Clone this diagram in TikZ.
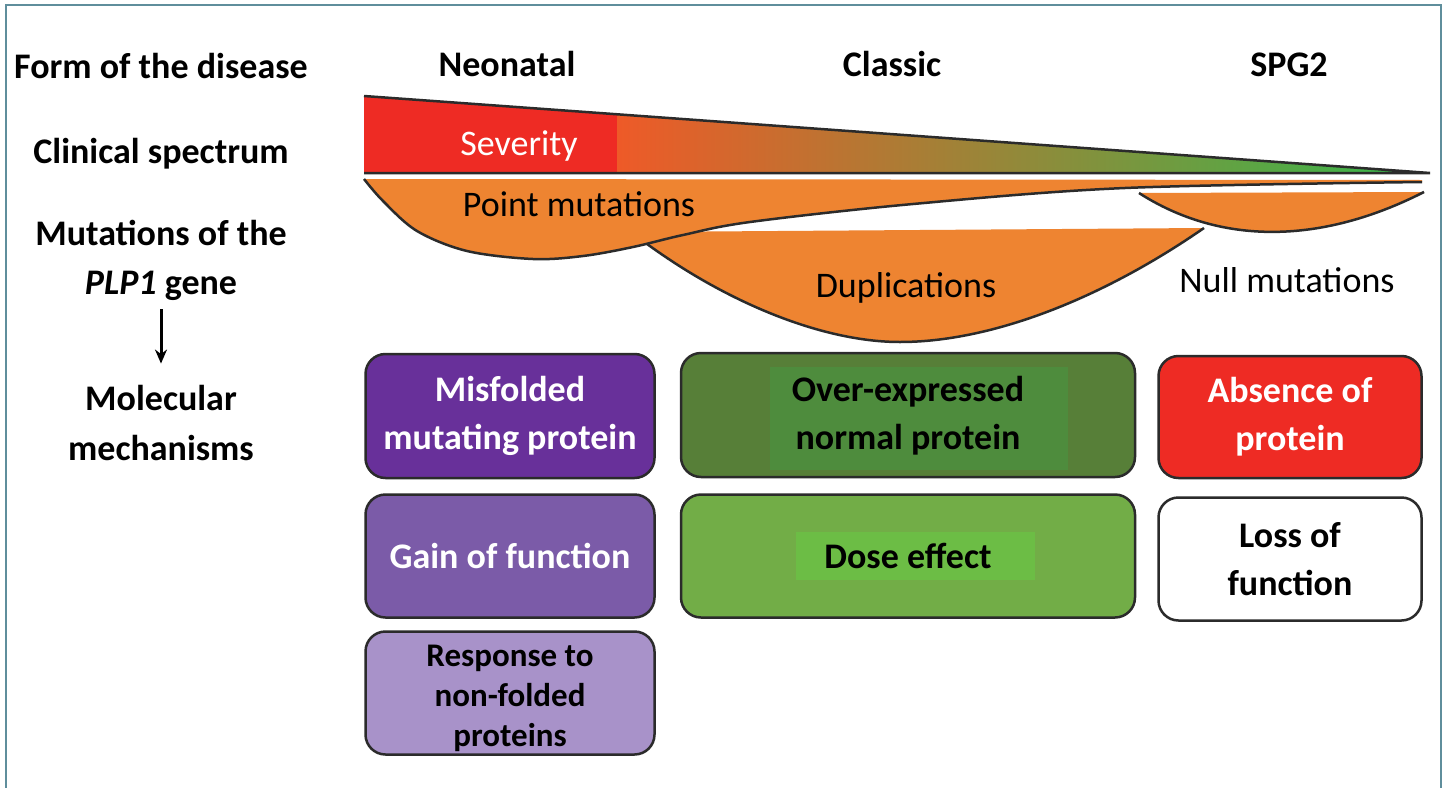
\documentclass[tikz,border=0pt]{standalone}
\usepackage{fontspec}
\setmainfont{Carlito}
\usetikzlibrary{arrows.meta}
\definecolor{sevred}{HTML}{EE2B24}
\definecolor{sevor}{HTML}{EE5A28}
\definecolor{sevgreen}{HTML}{3DB54A}
\definecolor{mutor}{HTML}{EE8431}
\definecolor{purpA}{HTML}{68309A}
\definecolor{purpB}{HTML}{7B5BA8}
\definecolor{purpC}{HTML}{A892C9}
\definecolor{grA}{HTML}{577F38}
\definecolor{grAin}{HTML}{4E8C3D}
\definecolor{grB}{HTML}{72AD47}
\definecolor{grBin}{HTML}{6CBD45}
\definecolor{framec}{HTML}{5F8E9C}
\definecolor{outl}{HTML}{2B2B2B}
\begin{document}
\begin{tikzpicture}[x=1pt,y=-1pt,
  lab/.style={inner sep=0pt, anchor=base, font=\fontsize{36}{44}\selectfont\bfseries},
  plain/.style={inner sep=0pt, anchor=base, font=\fontsize{36}{44}\selectfont},
  box/.style={draw=outl, line width=2.5pt, rounded corners=20pt, align=center, inner sep=0pt, font=\fontsize{36}{48}\selectfont\bfseries},
  boxtext/.style={align=center, inner sep=0pt, font=\fontsize{36}{48}\selectfont\bfseries},
  shapeline/.style={draw=outl, line width=2.5pt},
  arr/.style={-{Stealth[length=14pt,width=12pt]}, line width=3pt}
]
\useasboundingbox (0,0) rectangle (1448,787);
\fill[white] (0,0) rectangle (1448,787);
\draw[framec, line width=2pt] (6,790) -- (6,5) -- (1441,5) -- (1441,790);

% headers
\node[lab] (form) at (161,78) {Form of the disease};
\node[lab] (neo) at (507,76) {Neonatal};
\node[lab] (cla) at (892,76) {Classic};
\node[lab] (spg) at (1289,76) {SPG2};

% left column
\node[lab] (clin) at (161,163) {Clinical spectrum};
\node[lab] (mut) at (161,245) {Mutations of the};
\node[lab] (plp) at (161,294) {\textit{PLP1} gene};
\node[lab] (mol) at (161,410) {Molecular};
\node[lab] (mech) at (161,460) {mechanisms};
\draw[arr, shorten <=9pt, shorten >=21pt] (plp.south) -- (mol.north);

% severity triangle
\begin{scope}
\clip (364,96) -- (1430,173) -- (364,173) -- cycle;
\fill[sevred] (360,90) rectangle (617,176);
\shade[left color=sevor, right color=sevgreen] (617,90) rectangle (1390,176);
\fill[sevgreen] (1389,90) rectangle (1440,176);
\end{scope}
\draw[outl, line width=2.5pt] (364,96) -- (1430,173) -- (364,173);
\node[plain, text=white] (sev) at (519,155) {Severity};

% duplications
\fill[mutor] (635,232) -- (1204,228) .. controls (1100,300) and (990,342) .. (900,342) .. controls (820,342) and (720,300) .. (635,235) -- cycle;
\draw[shapeline] (1204,228) .. controls (1100,300) and (990,342) .. (900,342) .. controls (820,342) and (720,300) .. (635,235);

% point mutations
\fill[mutor] (364,179) -- (1422,180) -- plot[smooth, tension=0.55] coordinates {(1422,182) (1125,188) (913,204) (750,222) (683,235) (633,247) (583,256) (533,259) (467,251) (417,231) (383,201) (364,179)} -- cycle;
\draw[shapeline] plot[smooth, tension=0.55] coordinates {(1422,182) (1125,188) (913,204) (750,222) (683,235) (633,247) (583,256) (533,259) (467,251) (417,231) (383,201) (364,179)};

% null mutations
\fill[mutor] (1139,193) -- (1424,192) .. controls (1320,245) and (1220,245) .. (1139,193) -- cycle;
\draw[shapeline] (1424,192) .. controls (1320,245) and (1220,245) .. (1139,193);

\node[plain] (pm) at (579,216) {Point mutations};
\node[plain] (dup) at (906,297) {Duplications};
\node[plain] (null) at (1287,292) {Null mutations};

% boxes
\node[box, fill=purpA, text=white, minimum width=289, minimum height=124] (mis) at (510,416) {Misfolded\\mutating protein};
\node[box, fill=purpB, text=white, minimum width=289, minimum height=123] (gain) at (510,556) {Gain of function};
\node[box, fill=purpC, minimum width=289, minimum height=123] (resp) at (510,693) {};
\node[boxtext, font=\fontsize{33}{40}\selectfont\bfseries] (respT) at ([yshift=-5pt]resp.center) {Response to\\non-folded\\proteins};

\node[box, fill=grA, minimum width=454, minimum height=124] (over) at (908,415) {};
\fill[grAin] (770,367) rectangle (1068,470);
\node[boxtext] (overT) at ([yshift=-1pt]over.center) {Over-expressed\\normal protein};

\node[box, fill=grB, minimum width=454, minimum height=123] (dose) at (908,556) {};
\fill[grBin] (796,532) rectangle (1035,580);
\node[boxtext] (doseT) at (dose) {Dose effect};

\node[box, fill=sevred, text=white, minimum width=263, minimum height=122] (abs) at (1290,417) {Absence of\\protein};
\node[box, fill=white, minimum width=263, minimum height=123] (loss) at (1290,559) {Loss of\\function};
\end{tikzpicture}
\end{document}
